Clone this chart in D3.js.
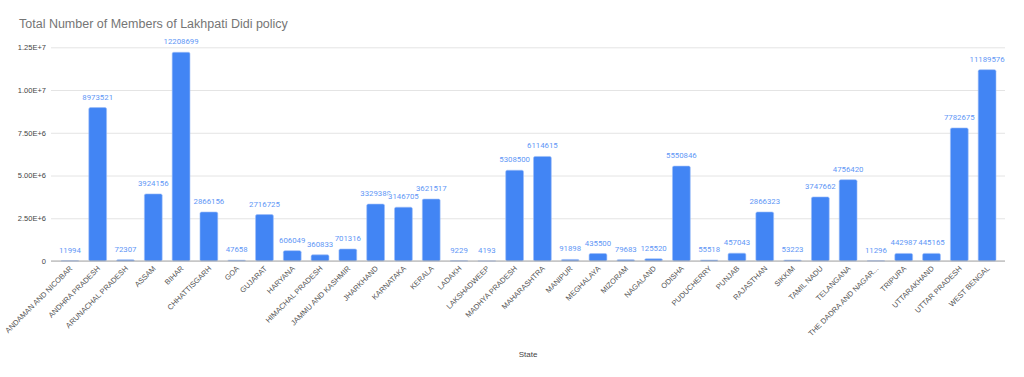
<!DOCTYPE html>
<html>
<head>
<meta charset="utf-8">
<script src="https://cdn.jsdelivr.net/npm/d3@7"></script>
<style>
  html, body { margin: 0; padding: 0; background: #fff; }
  svg { display: block; }
</style>
</head>
<body>
<div id="chart"></div>
<script>
// Lakhpati Didi members per state
const states = [
  "ANDAMAN AND NICOBAR", "ANDHRA PRADESH", "ARUNACHAL PRADESH", "ASSAM", "BIHAR",
  "CHHATTISGARH", "GOA", "GUJARAT", "HARYANA", "HIMACHAL PRADESH", "JAMMU AND KASHMIR",
  "JHARKHAND", "KARNATAKA", "KERALA", "LADAKH", "LAKSHADWEEP", "MADHYA PRADESH",
  "MAHARASHTRA", "MANIPUR", "MEGHALAYA", "MIZORAM", "NAGALAND", "ODISHA", "PUDUCHERRY",
  "PUNJAB", "RAJASTHAN", "SIKKIM", "TAMIL NADU", "TELANGANA", "THE DADRA AND NAGAR...",
  "TRIPURA", "UTTARAKHAND", "UTTAR PRADESH", "WEST BENGAL"
];
const members = [
  11994, 8973521, 72307, 3924156, 12208699,
  2866156, 47658, 2716725, 606049, 360833, 701316,
  3329388, 3146705, 3621517, 9229, 4193, 5308500,
  6114615, 91898, 435500, 79683, 125520, 5550846, 55518,
  457043, 2866323, 53223, 3747662, 4756420, 11296,
  442987, 445165, 7782675, 11189576
];
const yTicks = [0, 2.5e6, 5e6, 7.5e6, 1e7, 1.25e7];
const yTickLabels = ["0", "2.50E+6", "5.00E+6", "7.50E+6", "1.00E+7", "1.25E+7"];

const width = 1024, height = 377;
const svg = d3.select("#chart").append("svg")
  .attr("width", width)
  .attr("height", height);

const x = d3.scaleBand().domain(states).range([56, 1001]).paddingInner(0.36).paddingOuter(0.18);
const y = d3.scaleLinear().domain([0, 1.25e7]).range([261, 47.3]);

// title
svg.append("text")
  .attr("x", 19).attr("y", 28)
  .attr("font-family", "Arial, 'Liberation Sans', sans-serif")
  .attr("font-size", 12.5)
  .attr("fill", "#757575")
  .text("Total Number of Members of Lakhpati Didi policy");

// gridlines + y labels
const yAxis = d3.axisLeft(y)
  .tickValues(yTicks)
  .tickSize(-(1005 - 51))
  .tickPadding(5)
  .tickFormat((d, i) => yTickLabels[i]);

const gy = svg.append("g")
  .attr("transform", "translate(51,0)")
  .call(yAxis);
gy.select(".domain").remove();
gy.selectAll(".tick line").attr("stroke", "#e4e4e4").attr("stroke-width", 1);
gy.selectAll(".tick text")
  .attr("font-family", "Arial, 'Liberation Sans', sans-serif")
  .attr("font-size", 7.5)
  .attr("fill", "#444");

// bars
svg.append("g").selectAll("rect")
  .data(members)
  .join("rect")
  .attr("x", (d, i) => x(states[i]))
  .attr("y", d => y(d))
  .attr("width", x.bandwidth())
  .attr("height", d => y(0) - y(d))
  .attr("rx", 1.5)
  .attr("fill", "#4285f4")
  .attr("stroke", "#9dbef9")
  .attr("stroke-width", 0.6);

// baseline
svg.append("line")
  .attr("x1", 51).attr("x2", 1005)
  .attr("y1", y(0)).attr("y2", y(0))
  .attr("stroke", "#aaa")
  .attr("stroke-width", 1.2);

// value labels
svg.append("g").selectAll("text")
  .data(members)
  .join("text")
  .attr("x", (d, i) => x(states[i]) + x.bandwidth() / 2)
  .attr("y", d => y(d) - 8)
  .attr("text-anchor", "middle")
  .attr("font-family", "Roboto, Arial, sans-serif")
  .attr("font-size", 7.8)
  .attr("fill", "#5f97f6")
  .attr("stroke", "#fff")
  .attr("stroke-width", 2)
  .attr("paint-order", "stroke")
  .text(d => d);

// x labels, rotated
const xAxis = d3.axisBottom(x).tickSize(0).tickPadding(0);
const gx = svg.append("g")
  .attr("transform", `translate(0,${y(0)})`)
  .call(xAxis);
gx.select(".domain").remove();
gx.selectAll(".tick text")
  .attr("font-family", "Arial, 'Liberation Sans', sans-serif")
  .attr("font-size", 7.5)
  .attr("fill", "#555")
  .attr("text-anchor", "end")
  .attr("dy", 0)
  .attr("transform", "translate(3,8) rotate(-45)");

// axis title
svg.append("text")
  .attr("x", 528).attr("y", 357)
  .attr("text-anchor", "middle")
  .attr("font-family", "Arial, 'Liberation Sans', sans-serif")
  .attr("font-size", 8)
  .attr("fill", "#444")
  .text("State");
</script>
</body>
</html>
